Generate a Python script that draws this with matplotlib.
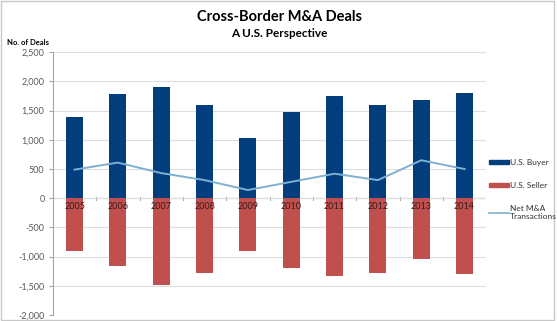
import matplotlib
matplotlib.use("Agg")
import matplotlib.pyplot as plt
from matplotlib.patches import Patch, Rectangle
from matplotlib.lines import Line2D
import numpy as np

years = ["2005", "2006", "2007", "2008", "2009", "2010", "2011", "2012", "2013", "2014"]
us_buyer = [1390, 1780, 1910, 1600, 1040, 1480, 1760, 1600, 1690, 1800]
us_seller = [-900, -1170, -1480, -1290, -900, -1200, -1340, -1290, -1040, -1300]
net_deals = [b + s for b, s in zip(us_buyer, us_seller)]

series_names = ["U.S. Buyer", "U.S. Seller", "Net M&A\nTransactions"]
yticks = [-2000, -1500, -1000, -500, 0, 500, 1000, 1500, 2000, 2500]

BLUE = "#023d7d"
RED = "#c0504d"
LINE = "#7eb0d2"
GRID = "#dedede"
AXIS = "#a6a6a6"

plt.rcParams['font.family'] = ['Lato', 'DejaVu Sans']

fig = plt.figure(figsize=(5.57, 3.21), dpi=100)
ax = fig.add_axes([0.095, 0.019, 0.778, 0.818])

x = np.arange(len(years))
ax.bar(x, us_buyer, width=0.39, color=BLUE, zorder=2)
ax.bar(x, us_seller, width=0.39, color=RED, zorder=2)
ax.plot(x, net_deals, color=LINE, lw=1.4, zorder=3)

ax.set_xlim(-0.5, len(years) - 0.5)
ax.set_ylim(-2000, 2500)
ax.set_yticks(yticks)
ax.set_yticklabels([f"{v:,}" for v in yticks], fontsize=6.5, color="#595959")
ax.yaxis.grid(True, color=GRID, lw=0.8, zorder=0)
ax.tick_params(axis='y', length=3, color=AXIS, pad=3)

# category labels sit on the zero line
ax.set_xticks([])
for i, yr in enumerate(years):
    ax.text(i, -70, yr, ha='center', va='top', fontsize=6.5, color="#3a1a1a", zorder=4)
ax.axhline(0, color=AXIS, lw=0.8, zorder=1)
for b in np.arange(0.5, len(years) - 1, 1.0):
    ax.plot([b, b], [-25, 25], color=AXIS, lw=0.7, zorder=1)

for side in ['top', 'right', 'bottom']:
    ax.spines[side].set_visible(False)
ax.spines['left'].set_color(AXIS)
ax.spines['left'].set_linewidth(0.8)

fig.text(0.501, 0.948, "Cross-Border M&A Deals", ha='center', va='center',
         fontsize=10.5, fontweight='bold', color='black')
fig.text(0.501, 0.897, "A U.S. Perspective", ha='center', va='center',
         fontsize=8.5, fontweight='bold', color='black')
fig.text(0.013, 0.868, "No. of Deals", ha='left', va='center',
         fontsize=5.5, fontweight='bold', color='black')

handles = [Patch(color=BLUE), Patch(color=RED), Line2D([], [], color=LINE, lw=1.2)]
leg = fig.legend(handles, series_names, loc='upper left', bbox_to_anchor=(0.878, 0.505),
                 frameon=False, fontsize=6.0, handlelength=2.4, handleheight=0.45,
                 handletextpad=0.1, labelspacing=1.9, borderaxespad=0, borderpad=0)
for t in leg.get_texts():
    t.set_color('#333333')

# outer chart border
fig.patches.append(Rectangle((0.002, 0.003), 0.992, 0.994, transform=fig.transFigure,
                             fill=False, ec='#c8c8c8', lw=1.0))

fig.savefig("out.png", dpi=100)
